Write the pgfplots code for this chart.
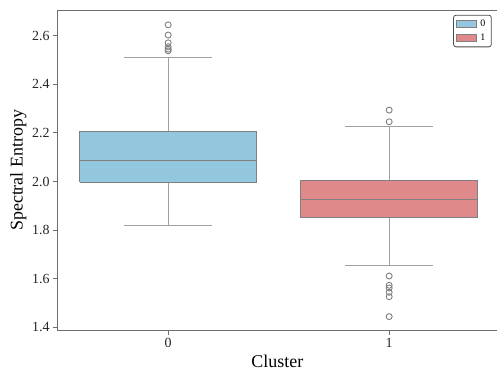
\documentclass[border=0pt]{standalone}
\usepackage{fontspec}
\setmainfont{Liberation Serif}
\usepackage{pgfplots}
\pgfplotsset{compat=1.18}
\definecolor{cblue}{RGB}{146,199,222}
\definecolor{cred}{RGB}{224,137,138}
\definecolor{cedge}{RGB}{128,128,128}
\definecolor{cwhisk}{RGB}{160,160,160}
\definecolor{cspine}{RGB}{110,110,110}
\begin{document}
\begin{tikzpicture}
\begin{axis}[
  at={(0,0)}, anchor=south west,
  scale only axis, width=439.3bp, height=320.7bp,
  xmin=-0.5, xmax=1.488, ymin=1.386, ymax=2.706,
  clip=false,
  axis x line*=box, axis y line*=left,
  xtick pos=bottom,
  axis line style={cspine, line width=1pt},
  xtick={0,1}, xticklabels={0,1},
  ytick={1.4,1.6,...,2.6},
  yticklabel style={/pgf/number format/.cd, fixed, fixed zerofill, precision=1},
  /pgf/number format/assume math mode=true,
  tick align=outside, tick style={cspine, line width=0.9pt},
  major tick length=4.5bp,
  ticklabel style={font=\fontsize{14}{16}\selectfont, text=black!85},
  xlabel={Cluster}, ylabel={Spectral Entropy},
  label style={font=\fontsize{18}{20}\selectfont},
  ylabel style={yshift=-1bp},
  legend style={at={(rel axis cs:0.988,0.985)}, anchor=north east,
    draw=black!70, line width=0.8pt, rounded corners=2.5pt, font=\fontsize{10}{11}\selectfont,
    inner xsep=2bp, inner ysep=2.5bp, row sep=2.5bp,
    nodes={inner xsep=4bp}},
  legend cell align=left,
  legend image code/.code={\draw[#1, sharp corners] (0bp,-3.5bp) rectangle (20bp,3.5bp);},
  whisk/.style={cwhisk, line width=1.15pt, forget plot},
  outl/.style={only marks, mark=o, mark size=3bp, mark options={draw=cedge, fill=none, line width=0.9pt}, forget plot},
]
% ---- cluster 0
\addplot[whisk] coordinates {(0,2.207) (0,2.511)};
\addplot[whisk] coordinates {(-0.2,2.511) (0.2,2.511)};
\addplot[whisk] coordinates {(0,1.997) (0,1.820)};
\addplot[whisk] coordinates {(-0.2,1.820) (0.2,1.820)};
\addplot[fill=cblue, draw=cedge, line width=1.15pt, forget plot] coordinates {(-0.4,1.997) (0.4,1.997) (0.4,2.207) (-0.4,2.207) (-0.4,1.997)};
\addplot[cedge, line width=1.15pt, forget plot] coordinates {(-0.4,2.088) (0.4,2.088)};
\addplot[outl] coordinates {(0,2.645) (0,2.603) (0,2.571) (0,2.555) (0,2.545) (0,2.538)};
% ---- cluster 1
\addplot[whisk] coordinates {(1,2.005) (1,2.228)};
\addplot[whisk] coordinates {(0.8,2.228) (1.2,2.228)};
\addplot[whisk] coordinates {(1,1.851) (1,1.656)};
\addplot[whisk] coordinates {(0.8,1.656) (1.2,1.656)};
\addplot[fill=cred, draw=cedge, line width=1.15pt, forget plot] coordinates {(0.6,1.851) (1.4,1.851) (1.4,2.005) (0.6,2.005) (0.6,1.851)};
\addplot[cedge, line width=1.15pt, forget plot] coordinates {(0.6,1.927) (1.4,1.927)};
\addplot[outl] coordinates {(1,2.294) (1,2.246) (1,1.611) (1,1.573) (1,1.562) (1,1.544) (1,1.526) (1,1.444)};

\addlegendimage{fill=cblue, draw=cedge, line width=0.8pt}
\addlegendentry{0}
\addlegendimage{fill=cred, draw=cedge, line width=0.8pt}
\addlegendentry{1}
\end{axis}
\pgfresetboundingbox
\path[use as bounding box] (-57.7bp,-46.3bp) rectangle (439.3bp,330.7bp);
\end{tikzpicture}
\end{document}
